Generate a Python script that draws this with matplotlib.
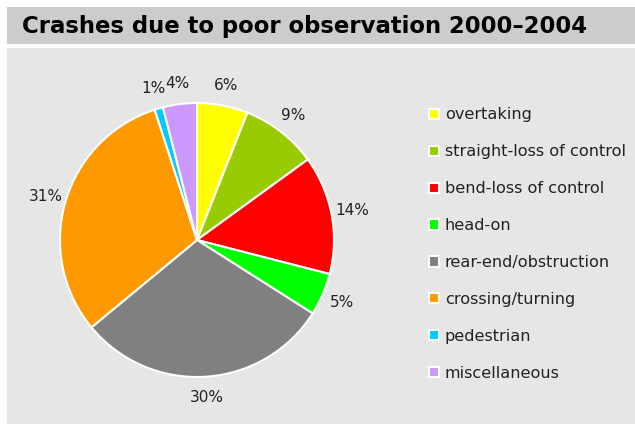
import matplotlib.pyplot as plt
from matplotlib.patches import Rectangle

categories = ["overtaking", "straight-loss of control", "bend-loss of control", "head-on",
              "rear-end/obstruction", "crossing/turning", "pedestrian", "miscellaneous"]
shares = [6, 9, 14, 5, 30, 31, 1, 4]
colors = ["#FFFF00", "#99CC00", "#FF0000", "#00FF00", "#808080", "#FF9900", "#00CCFF", "#CC99FF"]
title = "Crashes due to poor observation 2000\u20132004"

W, H = 635, 424
fig = plt.figure(figsize=(W / 100, H / 100), dpi=100)
fig.patch.set_facecolor("white")

# title bar and plot background
fig.patches.append(Rectangle((7 / W, 1 - 44 / H), 1, 37 / H, transform=fig.transFigure,
                             facecolor="#CCCCCC", edgecolor="none", zorder=-10))
fig.patches.append(Rectangle((7 / W, 0), 1, 1 - 48 / H, transform=fig.transFigure,
                             facecolor="#E6E6E6", edgecolor="none", zorder=-10))
fig.text(22 / W, 1 - 26 / H, title, fontsize=16.4, fontweight="bold", va="center", ha="left")

# pie: centre ~ (197, 240), radius ~ 137 px
r = 137
cx, cy = 197, 240
ax = fig.add_axes([(cx - r) / W, 1 - (cy + r) / H, 2 * r / W, 2 * r / H], zorder=1)
ax.pie(shares, colors=colors, startangle=90, counterclock=False,
       autopct="%d%%", pctdistance=1.15, radius=1,
       wedgeprops=dict(edgecolor="white", linewidth=1.5),
       textprops=dict(fontsize=11, color="#222222"))
ax.set_xlim(-1, 1)
ax.set_ylim(-1, 1)
ax.set_aspect("equal")
ax.axis("off")

handles = [Rectangle((0, 0), 1, 1, facecolor=c, edgecolor="white", linewidth=1.5) for c in colors]
fig.legend(handles, categories, loc="upper left", bbox_to_anchor=(415 / W, 1 - 93 / H),
           frameon=False, fontsize=11.6, handlelength=0.6, handleheight=0.6,
           handletextpad=0.35, labelspacing=1.36, labelcolor="#222222")

fig.savefig("out.png", dpi=100)
